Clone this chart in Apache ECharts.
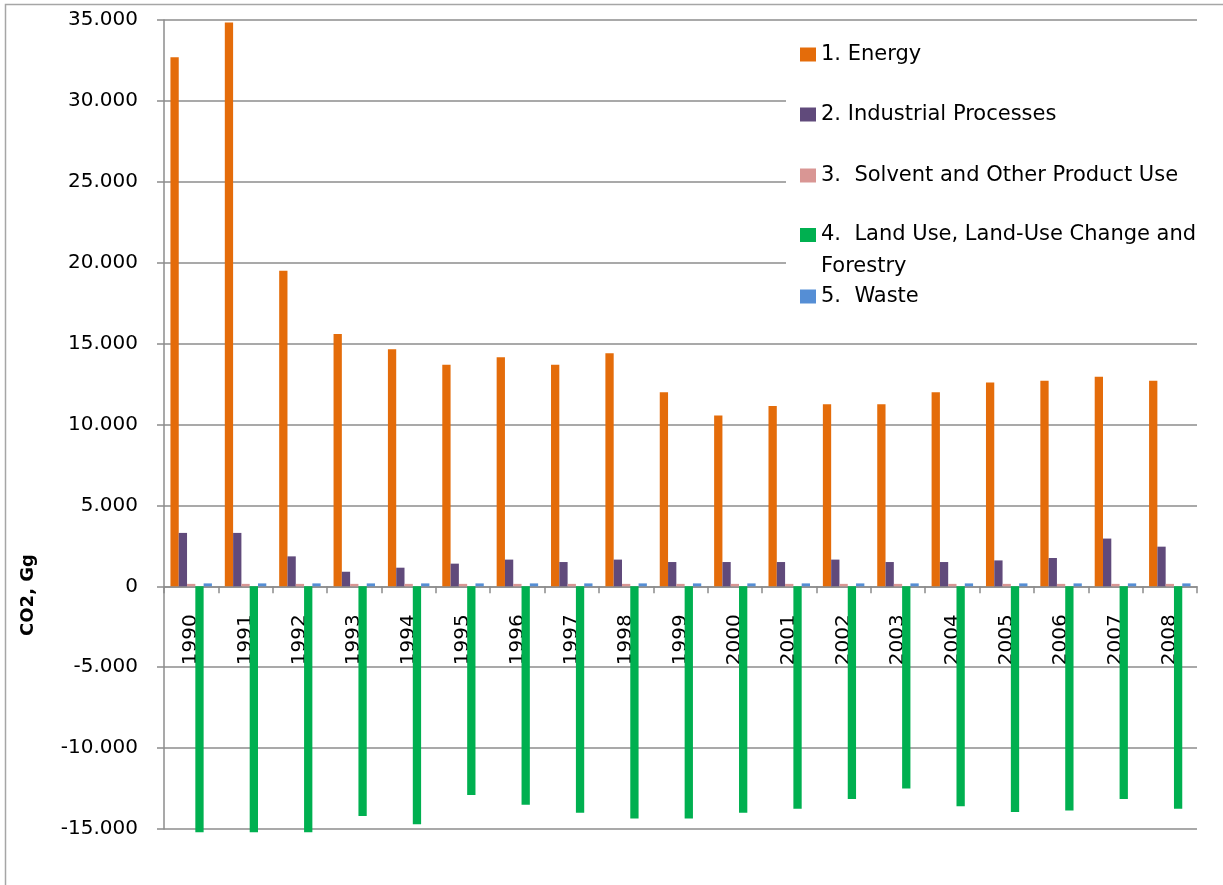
<!DOCTYPE html>
<html>
<head>
<meta charset="utf-8">
<script src="https://cdn.jsdelivr.net/npm/echarts@6/dist/echarts.min.js"></script>
<style>html,body{margin:0;padding:0;background:#fff}#c{width:1223px;height:885px}</style>
</head>
<body>
<div id="c"></div>
<script>
const years = ['1990','1991','1992','1993','1994','1995','1996','1997','1998','1999','2000','2001','2002','2003','2004','2005','2006','2007','2008'];
const seriesNames = ['1. Energy','2. Industrial Processes','3.  Solvent and Other Product Use','4.  Land Use, Land-Use Change and Forestry','5.  Waste'];
const energy = [32700,34850,19500,15600,14650,13700,14150,13700,14400,12000,10550,11150,11250,11250,12000,12600,12700,12950,12700];
const industrial = [3300,3300,1850,900,1150,1400,1650,1500,1650,1500,1500,1500,1650,1500,1500,1600,1750,2950,2450];
const solvent = [150,150,150,150,150,150,150,150,150,150,150,150,150,150,150,150,150,150,150];
const landUse = [-15200,-15200,-15200,-14200,-14700,-12900,-13500,-14000,-14350,-14350,-14000,-13750,-13150,-12500,-13600,-13950,-13850,-13150,-13750];
const waste = [180,180,180,180,180,180,180,180,180,180,180,180,180,180,180,180,180,180,180];
const yTicks = {min:-15000, max:35000, interval:5000};

const colors = ['#E46C0A','#604A7B','#D99694','#00B050','#558ED5'];
const values = [energy, industrial, solvent, landUse, waste];
const FONT = 'DejaVu Sans';
const GRID = '#8C8C8C';
const gridBox = {left: 164, right: 26, top: 20, bottom: 56};
const plotH = 885 - gridBox.top - gridBox.bottom;
const zeroOffset = plotH * (0 - yTicks.min) / (yTicks.max - yTicks.min);

function fmt(v){
  if (v === 0) return '0';
  const s = Math.abs(v).toString().replace(/\B(?=(\d{3})+(?!\d))/g, '.');
  return (v < 0 ? '-' : '') + s;
}

const legendTops = [44, 104, 165, 187, 286];
const legends = seriesNames.map((n, i) => {
  const l = {
    data: [n], left: 800, top: legendTops[i], padding: 0, itemGap: 0,
    itemWidth: 16, itemHeight: 14, icon: 'rect',
    textStyle: {fontFamily: FONT, fontSize: 21, color: '#000'}
  };
  if (i === 3) {
    l.formatter = () => ' \n4.  Land Use, Land-Use Change and\nForestry';
    l.textStyle.lineHeight = 32;
  }
  return l;
});

const chart = echarts.init(document.getElementById('c'), null, {renderer: 'canvas'});
chart.setOption({
  animation: false,
  backgroundColor: '#fff',
  color: colors,
  grid: Object.assign({containLabel: false, outerBoundsMode: 'none'}, gridBox),
  legend: legends,
  graphic: [
    {type: 'rect', shape: {x: 5.5, y: 4.5, width: 1240, height: 900}, style: {fill: 'none', stroke: '#A6A6A6', lineWidth: 1.5}, z: -10, silent: true},
    {type: 'rect', shape: {x: 786, y: 22, width: 411, height: 300}, style: {fill: '#fff'}, z: 1, silent: true},
    {type: 'text', x: 28, y: 595, rotation: Math.PI / 2, style: {text: 'CO2, Gg', font: 'bold 18px "DejaVu Sans"', fill: '#000', align: 'center', verticalAlign: 'middle'}, z: 5}
  ],
  xAxis: [{
    type: 'category', data: years, boundaryGap: true,
    axisLine: {onZero: true, lineStyle: {color: GRID, width: 1.5}},
    axisTick: {show: true, length: 7, lineStyle: {color: GRID, width: 1.5}},
    axisLabel: {show: false},
    splitLine: {show: false}
  }, {
    type: 'category', data: years, boundaryGap: true, position: 'bottom',
    offset: -zeroOffset,
    axisLine: {show: false, onZero: false},
    axisTick: {show: false},
    axisLabel: {rotate: 90, margin: 28, fontFamily: FONT, fontSize: 20, color: '#000'},
    splitLine: {show: false}
  }],
  yAxis: {
    type: 'value', min: yTicks.min, max: yTicks.max, interval: yTicks.interval,
    axisLine: {show: true, lineStyle: {color: GRID, width: 1.5}},
    axisTick: {show: true, length: 7, lineStyle: {color: GRID, width: 1.5}},
    axisLabel: {margin: 26, fontFamily: FONT, fontSize: 20, color: '#000', formatter: fmt},
    splitLine: {show: true, lineStyle: {color: GRID, width: 1.5}}
  },
  series: seriesNames.map((n, i) => ({
    name: n, type: 'bar', data: values[i], clip: false, xAxisIndex: 0,
    barGap: '0%', barCategoryGap: '23.7%', z: 2,
    itemStyle: {color: colors[i]}
  }))
});
</script>
</body>
</html>
